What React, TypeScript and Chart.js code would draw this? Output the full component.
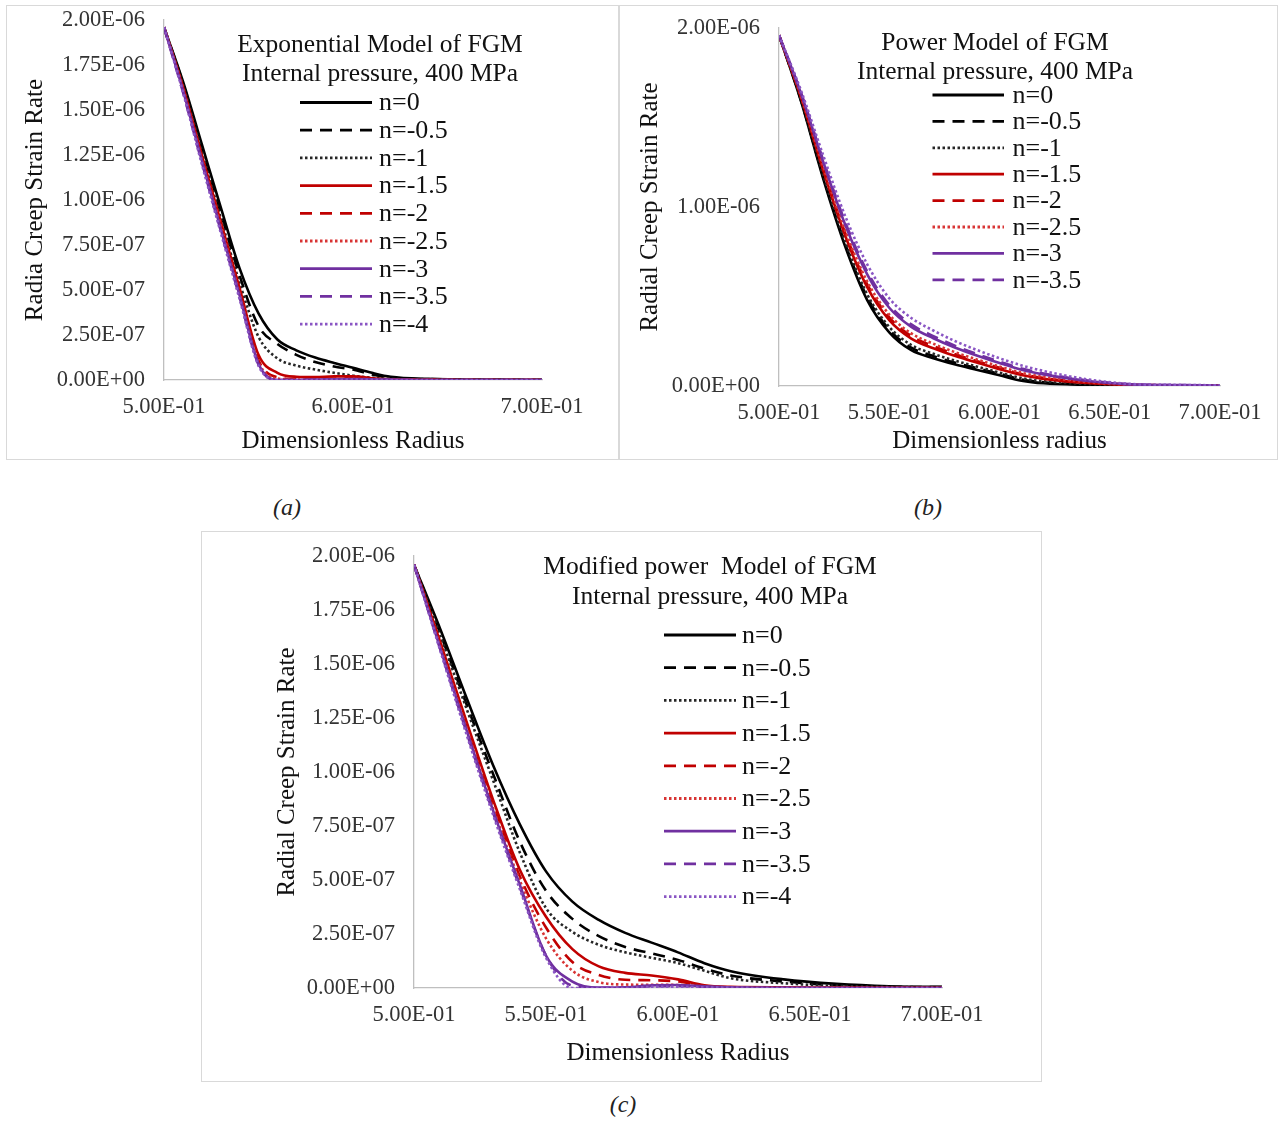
import React, { useEffect, useRef } from 'react';
import { Chart, registerables } from 'chart.js';

Chart.register(...registerables);

const FONT = "'Liberation Serif', 'Times New Roman', serif";
const TICK_COLOR = '#333333';
const TEXT_COLOR = '#111111';
const AXIS_COLOR = '#bfbfbf';

const seriesLabels = ['n=0', 'n=-0.5', 'n=-1', 'n=-1.5', 'n=-2', 'n=-2.5', 'n=-3', 'n=-3.5', 'n=-4'];

// Dimensionless radius samples
const radius = [0.50, 0.51, 0.52, 0.53, 0.54, 0.55, 0.56, 0.57, 0.58, 0.59, 0.60, 0.61, 0.62, 0.64, 0.66, 0.68, 0.70];

// Exponential model of FGM, radial creep strain rate (x 1E-06)
const expN0 = [1.96, 1.66, 1.31, 0.96, 0.62, 0.37, 0.225, 0.165, 0.125, 0.095, 0.068, 0.040, 0.018, 0.006, 0.003, 0.002, 0.001];
const expN05 = [1.96, 1.65, 1.29, 0.93, 0.58, 0.30, 0.20, 0.14, 0.10, 0.075, 0.058, 0.030, 0.012, 0.005, 0.002, 0.001, 0.001];
const expN1 = [1.96, 1.64, 1.27, 0.90, 0.54, 0.24, 0.12, 0.08, 0.058, 0.040, 0.024, 0.013, 0.006, 0.003, 0.001, 0.001, 0.0];
const expN15 = [1.96, 1.63, 1.25, 0.88, 0.51, 0.14, 0.04, 0.018, 0.016, 0.020, 0.020, 0.010, 0.004, 0.001, 0, 0, 0];
const expN2 = [1.96, 1.62, 1.24, 0.87, 0.49, 0.11, 0.015, 0.006, 0.006, 0.008, 0.010, 0.006, 0.003, 0.001, 0, 0, 0];
const expN25 = [1.96, 1.62, 1.23, 0.86, 0.48, 0.10, 0.008, 0.003, 0.003, 0.005, 0.006, 0.004, 0.002, 0, 0, 0, 0];
const expN3 = [1.96, 1.61, 1.22, 0.84, 0.47, 0.09, 0, 0, 0.002, 0.004, 0.005, 0.004, 0.002, 0, 0, 0, 0];
const expN35 = [1.96, 1.60, 1.21, 0.83, 0.46, 0.085, 0, 0, 0.001, 0.002, 0.003, 0.002, 0.001, 0, 0, 0, 0];
const expN4 = [1.96, 1.60, 1.20, 0.82, 0.45, 0.08, 0, 0, 0, 0.001, 0.002, 0.001, 0, 0, 0, 0, 0];

// Power model of FGM (x 1E-06)
const powN0 = [1.96, 1.59, 1.16, 0.78, 0.48, 0.30, 0.20, 0.155, 0.12, 0.09, 0.06, 0.03, 0.015, 0.006, 0.003, 0.002, 0.001];
const powN05 = [1.96, 1.595, 1.17, 0.794, 0.496, 0.315, 0.214, 0.167, 0.13, 0.099, 0.068, 0.037, 0.021, 0.008, 0.004, 0.002, 0.001];
const powN1 = [1.96, 1.60, 1.181, 0.807, 0.512, 0.33, 0.229, 0.18, 0.141, 0.108, 0.075, 0.044, 0.026, 0.011, 0.004, 0.003, 0.0015];
const powN15 = [1.96, 1.612, 1.207, 0.841, 0.552, 0.368, 0.265, 0.211, 0.167, 0.13, 0.094, 0.061, 0.040, 0.017, 0.006, 0.003, 0.002];
const powN2 = [1.96, 1.616, 1.217, 0.855, 0.568, 0.384, 0.279, 0.223, 0.177, 0.138, 0.102, 0.067, 0.045, 0.020, 0.007, 0.004, 0.002];
const powN25 = [1.96, 1.621, 1.228, 0.868, 0.584, 0.399, 0.294, 0.236, 0.188, 0.147, 0.109, 0.074, 0.051, 0.022, 0.007, 0.004, 0.0025];
const powN3 = [1.96, 1.633, 1.254, 0.902, 0.624, 0.437, 0.33, 0.267, 0.214, 0.169, 0.128, 0.091, 0.065, 0.028, 0.009, 0.005, 0.003];
const powN35 = [1.96, 1.638, 1.264, 0.916, 0.64, 0.452, 0.344, 0.279, 0.224, 0.178, 0.136, 0.098, 0.070, 0.031, 0.009, 0.005, 0.003];
const powN4 = [1.96, 1.65, 1.29, 0.95, 0.68, 0.49, 0.38, 0.31, 0.25, 0.20, 0.155, 0.115, 0.084, 0.037, 0.011, 0.006, 0.004];

// Modified power model of FGM (x 1E-06)
const modN0 = [1.96, 1.66, 1.34, 1.03, 0.76, 0.54, 0.40, 0.315, 0.255, 0.21, 0.165, 0.115, 0.078, 0.040, 0.019, 0.008, 0.005];
const modN05 = [1.96, 1.64, 1.31, 0.99, 0.68, 0.45, 0.32, 0.24, 0.19, 0.16, 0.13, 0.09, 0.058, 0.030, 0.013, 0.006, 0.004];
const modN1 = [1.96, 1.63, 1.29, 0.96, 0.63, 0.37, 0.26, 0.20, 0.165, 0.14, 0.115, 0.08, 0.045, 0.022, 0.010, 0.005, 0.003];
const modN15 = [1.96, 1.60, 1.23, 0.87, 0.55, 0.33, 0.18, 0.10, 0.07, 0.058, 0.04, 0.012, 0.005, 0.003, 0.002, 0.001, 0.001];
const modN2 = [1.96, 1.59, 1.21, 0.85, 0.52, 0.28, 0.12, 0.06, 0.038, 0.036, 0.03, 0.008, 0.003, 0.002, 0.001, 0.001, 0];
const modN25 = [1.96, 1.58, 1.20, 0.83, 0.50, 0.23, 0.08, 0.027, 0.016, 0.015, 0.014, 0.006, 0.002, 0.001, 0, 0, 0];
const modN3 = [1.96, 1.57, 1.19, 0.82, 0.48, 0.15, 0.03, 0.002, 0.003, 0.012, 0.014, 0.008, 0.003, 0.001, 0, 0, 0];
const modN35 = [1.96, 1.565, 1.18, 0.81, 0.47, 0.15, 0.01, 0, 0.002, 0.008, 0.01, 0.005, 0.002, 0, 0, 0, 0];
const modN4 = [1.96, 1.56, 1.17, 0.80, 0.46, 0.14, 0, 0, 0, 0.005, 0.006, 0.003, 0.001, 0, 0, 0, 0];

const expSeries = [expN0, expN05, expN1, expN15, expN2, expN25, expN3, expN35, expN4];
const powSeries = [powN0, powN05, powN1, powN15, powN2, powN25, powN3, powN35, powN4];
const modSeries = [modN0, modN05, modN1, modN15, modN2, modN25, modN3, modN35, modN4];

const seriesColors = ['#000000', '#000000', '#262626', '#c00000', '#c00000', '#d83434', '#7030a0', '#7030a0', '#8a56c4'];
const DASH = [12, 8];
const DOT = [2.5, 2.5];
const seriesDashes: number[][] = [[], DASH, DOT, [], DASH, DOT, [], DASH, DOT];

function fmtExp(v: number): string {
  if (Math.abs(v) < 1e-15) return '0.00E+00';
  const [m, e] = v.toExponential(2).split('e');
  const ei = parseInt(e, 10);
  const sign = ei < 0 ? '-' : '+';
  return `${m}E${sign}${String(Math.abs(ei)).padStart(2, '0')}`;
}

type PanelSpec = {
  left: number;
  top: number;
  width: number;
  height: number;
  yAxisW: number;
  xAxisH: number;
  padTop: number;
  padRight: number;
  yStep: number;
  xStep: number;
  yTitle: string;
  yTitlePad: number;
  xTitle: string;
  xTitlePad: number;
  titleLines: string[];
  titleX: number;
  titleY: number[];
  legendX0: number;
  legendX1: number;
  legendTextX: number;
  legendY0: number;
  legendDY: number;
  legendCount: number;
  series: number[][];
};

const panelA: PanelSpec = {
  left: 6, top: 5, width: 613, height: 455,
  yAxisW: 158, xAxisH: 80, padTop: 15, padRight: 77,
  yStep: 0.25, xStep: 0.1,
  yTitle: 'Radia Creep Strain Rate', yTitlePad: 16.5,
  xTitle: 'Dimensionless Radius', xTitlePad: 6.5,
  titleLines: ['Exponential Model of FGM', 'Internal pressure, 400 MPa'],
  titleX: 374, titleY: [40, 69],
  legendX0: 294, legendX1: 366, legendTextX: 373, legendY0: 97.5, legendDY: 27.7, legendCount: 9,
  series: expSeries,
};

const panelB: PanelSpec = {
  left: 619, top: 5, width: 659, height: 455,
  yAxisW: 160, xAxisH: 74, padTop: 23, padRight: 58,
  yStep: 1, xStep: 0.05,
  yTitle: 'Radial Creep Strain Rate', yTitlePad: 18.5,
  xTitle: 'Dimensionless radius', xTitlePad: 6,
  titleLines: ['Power Model of FGM', 'Internal pressure, 400 MPa'],
  titleX: 376, titleY: [38.5, 67.5],
  legendX0: 313.5, legendX1: 385, legendTextX: 393.5, legendY0: 90, legendDY: 26.4, legendCount: 8,
  series: powSeries,
};

const panelC: PanelSpec = {
  left: 201, top: 531, width: 841, height: 551,
  yAxisW: 213, xAxisH: 94, padTop: 25, padRight: 100,
  yStep: 0.25, xStep: 0.05,
  yTitle: 'Radial Creep Strain Rate', yTitlePad: 73.5,
  xTitle: 'Dimensionless Radius', xTitlePad: 16.5,
  titleLines: ['Modified power  Model of FGM', 'Internal pressure, 400 MPa'],
  titleX: 509, titleY: [36.5, 66],
  legendX0: 463, legendX1: 535, legendTextX: 541, legendY0: 104, legendDY: 32.7, legendCount: 9,
  series: modSeries,
};

// Draws the in-plot heading and the key of line styles
function makeOverlay(spec: PanelSpec) {
  return {
    id: 'panelOverlay',
    afterDatasetsDraw(chart: any) {
      const ctx: CanvasRenderingContext2D = chart.ctx;
      ctx.save();
      ctx.fillStyle = TEXT_COLOR;
      ctx.font = `25.5px ${FONT}`;
      ctx.textAlign = 'center';
      ctx.textBaseline = 'middle';
      spec.titleLines.forEach((t, i) => ctx.fillText(t, spec.titleX, spec.titleY[i]));
      const ds = chart.data.datasets;
      ctx.font = `26px ${FONT}`;
      ctx.textAlign = 'left';
      for (let i = 0; i < spec.legendCount; i++) {
        const y = spec.legendY0 + i * spec.legendDY;
        ctx.strokeStyle = ds[i].borderColor;
        ctx.lineWidth = 2.8;
        ctx.lineCap = 'butt';
        ctx.setLineDash(ds[i].borderDash || []);
        ctx.beginPath();
        ctx.moveTo(spec.legendX0, y);
        ctx.lineTo(spec.legendX1, y);
        ctx.stroke();
        ctx.setLineDash([]);
        ctx.fillText(ds[i].label, spec.legendTextX, y + 1);
      }
      ctx.restore();
    },
  };
}

function Panel({ spec }: { spec: PanelSpec }) {
  const ref = useRef<HTMLCanvasElement>(null);
  useEffect(() => {
    if (!ref.current) return;
    const datasets = spec.series.map((vals, i) => ({
      label: seriesLabels[i],
      data: radius.map((r, j) => ({ x: r, y: vals[j] })),
      borderColor: seriesColors[i],
      backgroundColor: seriesColors[i],
      borderWidth: 2.6,
      borderDash: seriesDashes[i],
      pointRadius: 0,
      cubicInterpolationMode: 'monotone' as const,
      fill: false,
      order: 20 - i,
    }));
    const chart = new Chart(ref.current, {
      type: 'line',
      data: { datasets },
      options: {
        animation: false,
        responsive: false,
        devicePixelRatio: 1,
        events: [],
        layout: { padding: { left: 0, top: spec.padTop, right: spec.padRight, bottom: 0 } },
        plugins: {
          legend: { display: false },
          tooltip: { enabled: false },
          title: { display: false },
        },
        scales: {
          x: {
            type: 'linear',
            min: 0.5,
            max: 0.7,
            afterFit: (s: any) => {
              s.height = spec.xAxisH;
              s.paddingLeft = 0;
              s.paddingRight = 0;
              s.paddingTop = 0;
              s.paddingBottom = 0;
            },
            grid: { display: false, drawTicks: false },
            border: { display: true, color: AXIS_COLOR, width: 1.3 },
            ticks: {
              stepSize: spec.xStep,
              callback: (v: any) => fmtExp(Number(v)),
              font: { family: FONT, size: 22.5, lineHeight: 1.2 },
              color: TICK_COLOR,
              padding: 13.5,
              maxRotation: 0,
              minRotation: 0,
              autoSkip: false,
            },
            title: {
              display: true,
              text: spec.xTitle,
              color: TEXT_COLOR,
              font: { family: FONT, size: 25, lineHeight: 1 },
              padding: { top: 0, bottom: spec.xTitlePad },
            },
          },
          y: {
            type: 'linear',
            min: 0,
            max: 2,
            afterFit: (s: any) => {
              s.width = spec.yAxisW;
              s.paddingLeft = 0;
              s.paddingRight = 0;
              s.paddingTop = 0;
              s.paddingBottom = 0;
            },
            grid: { display: false, drawTicks: false },
            border: { display: true, color: AXIS_COLOR, width: 1.3 },
            ticks: {
              stepSize: spec.yStep,
              callback: (v: any) => fmtExp(Number(v) * 1e-6),
              font: { family: FONT, size: 22.5, lineHeight: 1.2 },
              color: TICK_COLOR,
              padding: 19,
              autoSkip: false,
            },
            title: {
              display: true,
              text: spec.yTitle,
              color: TEXT_COLOR,
              font: { family: FONT, size: 25, lineHeight: 1 },
              padding: { top: spec.yTitlePad, bottom: 0 },
            },
          },
        },
      },
      plugins: [makeOverlay(spec)],
    } as any);
    return () => chart.destroy();
  }, [spec]);

  return (
    <div style={{ position: 'absolute', left: spec.left, top: spec.top, width: spec.width, height: spec.height }}>
      <canvas
        ref={ref}
        width={spec.width}
        height={spec.height}
        style={{ display: 'block', width: spec.width, height: spec.height }}
      />
      <div
        style={{
          position: 'absolute',
          left: 0,
          top: 0,
          width: spec.width,
          height: spec.height,
          border: '1px solid #d9d9d9',
          boxSizing: 'border-box',
          pointerEvents: 'none',
        }}
      />
    </div>
  );
}

function Caption({ text, cx, cy }: { text: string; cx: number; cy: number }) {
  return (
    <div
      style={{
        position: 'absolute',
        left: cx - 50,
        top: cy - 15,
        width: 100,
        height: 30,
        lineHeight: '30px',
        textAlign: 'center',
        fontFamily: FONT,
        fontStyle: 'italic',
        fontSize: 24,
        color: '#222',
      }}
    >
      {text}
    </div>
  );
}

export default function App() {
  return (
    <div style={{ position: 'absolute', left: 0, top: 0, width: 1280, height: 1121, background: '#ffffff' }}>
      <Panel spec={panelA} />
      <Panel spec={panelB} />
      <Panel spec={panelC} />
      <Caption text="(a)" cx={287} cy={507} />
      <Caption text="(b)" cx={928} cy={507} />
      <Caption text="(c)" cx={623} cy={1104} />
    </div>
  );
}
